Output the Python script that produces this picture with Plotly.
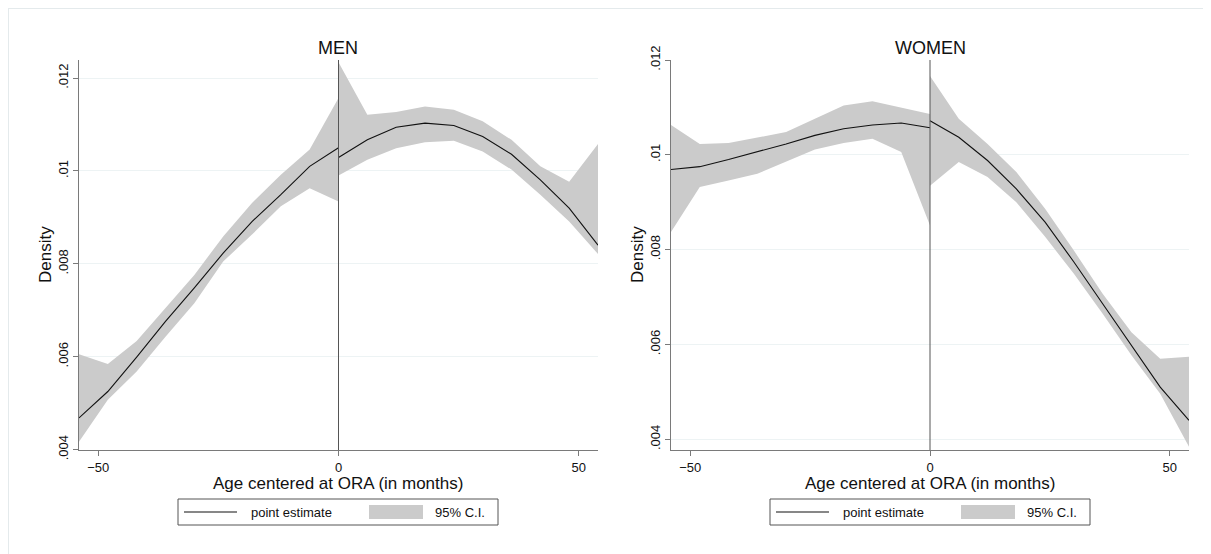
import plotly.graph_objects as go

# ---------------- data ----------------
x_left = [-54, -48, -42, -36, -30, -24, -18, -12, -6, 0]
x_right = [0, 6, 12, 18, 24, 30, 36, 42, 48, 54]

men_left_est = [0.00468, 0.00525, 0.00599, 0.00676, 0.00748, 0.00823, 0.00891, 0.00949, 0.01010, 0.01050]
men_left_hi = [0.00605, 0.00584, 0.00634, 0.00705, 0.00776, 0.00859, 0.00931, 0.00992, 0.01046, 0.01157]
men_left_lo = [0.00417, 0.00507, 0.00568, 0.00643, 0.00715, 0.00805, 0.00863, 0.00924, 0.00963, 0.00934]
men_right_est = [0.01029, 0.01067, 0.01094, 0.01103, 0.01098, 0.01074, 0.01036, 0.00981, 0.00920, 0.00840]
men_right_hi = [0.01234, 0.01121, 0.01127, 0.01139, 0.01132, 0.01107, 0.01067, 0.01010, 0.00977, 0.01058]
men_right_lo = [0.00990, 0.01024, 0.01049, 0.01062, 0.01065, 0.01042, 0.01003, 0.00949, 0.00891, 0.00821]

women_left_est = [0.00969, 0.00975, 0.00990, 0.01006, 0.01023, 0.01041, 0.01055, 0.01063, 0.01067, 0.01057]
women_left_hi = [0.01063, 0.01023, 0.01025, 0.01037, 0.01048, 0.01076, 0.01104, 0.01113, 0.01100, 0.01086]
women_left_lo = [0.00837, 0.00932, 0.00946, 0.00960, 0.00985, 0.01011, 0.01025, 0.01034, 0.01006, 0.00851]
women_right_est = [0.01072, 0.01037, 0.00988, 0.00928, 0.00858, 0.00774, 0.00686, 0.00598, 0.00510, 0.00440]
women_right_hi = [0.01166, 0.01076, 0.01023, 0.00964, 0.00886, 0.00798, 0.00707, 0.00626, 0.00570, 0.00574]
women_right_lo = [0.00935, 0.00985, 0.00953, 0.00900, 0.00827, 0.00749, 0.00665, 0.00577, 0.00496, 0.00384]

titles = ["MEN", "WOMEN"]
y_tickvals = [0.004, 0.006, 0.008, 0.01, 0.012]
y_ticktext = [".004", ".006", ".008", ".01", ".012"]
x_tickvals = [-50, 0, 50]
x_title = "Age centered at ORA (in months)"
y_title = "Density"
legend_labels = ["point estimate", "95% C.I."]

# ---------------- styling ----------------
W, H = 1211, 554
OFF = 8  # page body margin offset
FONT = "Liberation Sans, Arial, Helvetica, sans-serif"
BAND = "#cbcbcb"
AXIS = "#7a7a7a"
GRID = "#edf3f4"


def px_x(p):
    return (p - OFF) / W


def px_y(p):
    return 1 - (p - OFF) / H


fig = go.Figure()

panels = [
    dict(xa="x", ya="y", data=(men_left_est, men_left_hi, men_left_lo, men_right_est, men_right_hi, men_right_lo)),
    dict(xa="x2", ya="y2", data=(women_left_est, women_left_hi, women_left_lo, women_right_est, women_right_hi, women_right_lo)),
]

for p in panels:
    le, lh, ll, re_, rh, rl = p["data"]
    for xs, hi, lo in ((x_left, lh, ll), (x_right, rh, rl)):
        fig.add_trace(go.Scatter(
            x=xs + xs[::-1], y=hi + lo[::-1], fill="toself", fillcolor=BAND,
            line=dict(width=0), mode="lines", xaxis=p["xa"], yaxis=p["ya"],
            showlegend=False, hoverinfo="skip"))
    for xs, est in ((x_left, le), (x_right, re_)):
        fig.add_trace(go.Scatter(
            x=xs, y=est, mode="lines", line=dict(color="#111111", width=1.1),
            xaxis=p["xa"], yaxis=p["ya"], showlegend=False))

ydom = [px_y(450), px_y(60)]
x1dom = [px_x(79), px_x(598)]
x2dom = [px_x(671), px_x(1189)]

xcommon = dict(range=[-54, 54], tickvals=x_tickvals, ticks="outside", ticklen=5,
               tickcolor=AXIS, showline=True, linecolor=AXIS, linewidth=1, automargin=False,
               showgrid=False, zeroline=False, tickfont=dict(family=FONT, size=13, color="#111"))
ycommon = dict(tickvals=y_tickvals, ticktext=y_ticktext, ticks="outside", ticklen=5,
               tickcolor=AXIS, showline=True, linecolor=AXIS, linewidth=1, automargin=False,
               showgrid=True, gridcolor=GRID, gridwidth=1, zeroline=False,
               tickangle=-90, tickfont=dict(family=FONT, size=13, color="#111"))

fig.update_layout(
    width=W, height=H, margin=dict(l=0, r=0, t=0, b=0, autoexpand=False),
    paper_bgcolor="white", plot_bgcolor="white", showlegend=False,
    xaxis=dict(domain=x1dom, anchor="y", **xcommon),
    yaxis=dict(domain=ydom, anchor="x", range=[0.00399, 0.01239], **ycommon),
    xaxis2=dict(domain=x2dom, anchor="y2", **xcommon),
    yaxis2=dict(domain=ydom, anchor="x2", range=[0.003774, 0.012], **ycommon),
)

shapes = []
annotations = []
# outer light frame
shapes.append(dict(type="line", xref="paper", yref="paper", x0=px_x(8), x1=1, y0=px_y(8.5), y1=px_y(8.5),
                   line=dict(color="#e4eaec", width=1)))
shapes.append(dict(type="line", xref="paper", yref="paper", x0=px_x(8.5), x1=px_x(8.5), y0=0, y1=px_y(8),
                   line=dict(color="#e4eaec", width=1)))

for i, (xa, ya) in enumerate((("x", "y"), ("x2", "y2"))):
    off = 592 * i
    # vertical cutoff line
    shapes.append(dict(type="line", xref=xa, yref=f"{ya} domain", x0=0, x1=0, y0=0, y1=1,
                       line=dict(color="#555555", width=1)))
    # titles
    annotations.append(dict(text=titles[i], xref="paper", yref="paper", x=px_x(338 + off), y=px_y(48),
                            showarrow=False, font=dict(family=FONT, size=18, color="#111"),
                            xanchor="center", yanchor="middle"))
    annotations.append(dict(text=x_title, xref="paper", yref="paper", x=px_x(338 + off), y=px_y(483),
                            showarrow=False, font=dict(family=FONT, size=17, color="#111"),
                            xanchor="center", yanchor="middle"))
    annotations.append(dict(text=y_title, xref="paper", yref="paper", x=px_x(45 + off), y=px_y(255),
                            showarrow=False, textangle=-90, font=dict(family=FONT, size=17, color="#111"),
                            xanchor="center", yanchor="middle"))
    # legend box
    shapes.append(dict(type="rect", xref="paper", yref="paper",
                       x0=px_x(178 + off), x1=px_x(498 + off), y0=px_y(525), y1=px_y(499),
                       line=dict(color="#555555", width=1), fillcolor="white"))
    shapes.append(dict(type="line", xref="paper", yref="paper",
                       x0=px_x(184 + off), x1=px_x(237 + off), y0=px_y(512), y1=px_y(512),
                       line=dict(color="#111111", width=1.1)))
    annotations.append(dict(text=legend_labels[0], xref="paper", yref="paper", x=px_x(249 + off), y=px_y(512),
                            showarrow=False, font=dict(family=FONT, size=13, color="#111"),
                            xanchor="left", yanchor="middle"))
    shapes.append(dict(type="rect", xref="paper", yref="paper",
                       x0=px_x(369 + off), x1=px_x(423 + off), y0=px_y(519), y1=px_y(505),
                       line=dict(width=0), fillcolor=BAND))
    annotations.append(dict(text=legend_labels[1], xref="paper", yref="paper", x=px_x(433 + off), y=px_y(512),
                            showarrow=False, font=dict(family=FONT, size=13, color="#111"),
                            xanchor="left", yanchor="middle"))

fig.update_layout(shapes=shapes, annotations=annotations)
fig.write_html("out.html")
